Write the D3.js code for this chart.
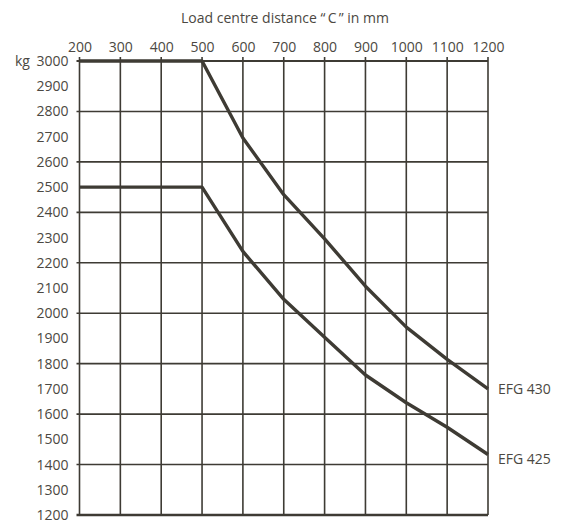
<!DOCTYPE html>
<html lang="en">
<head>
<meta charset="UTF-8">
<title>Load chart</title>
<script src="https://cdn.jsdelivr.net/npm/d3@7/dist/d3.min.js"></script>
<style>
  body { margin: 0; background: #fff; }
  text { font-family: "Open Sans", sans-serif; fill: #4b4842; }
</style>
</head>
<body>
<script>
// load centre distance in mm
var distances = [200, 300, 400, 500, 600, 700, 800, 900, 1000, 1100, 1200];
// capacity in kg
var efg430 = [3000, 3000, 3000, 3000, 2695, 2470, 2295, 2107, 1945, 1817, 1700];
var efg425 = [2500, 2500, 2500, 2500, 2245, 2055, 1905, 1755, 1645, 1548, 1440];
var seriesNames = ["EFG 430", "EFG 425"];
var labelLevels = [1700, 1420];
var yTicks = d3.range(1200, 3001, 100);
var yGrid = d3.range(1200, 3001, 200);

var width = 561, height = 525;
var ink = "#3e3b34";
var fs = "14px";

var svg = d3.select("body").append("svg")
    .attr("width", width)
    .attr("height", height);

var x = d3.scaleLinear().domain([200, 1200]).range([79.5, 488]);
var y = d3.scaleLinear().domain([1200, 3000]).range([515, 61]);

// title
svg.append("text")
    .attr("x", 285)
    .attr("y", 23)
    .attr("text-anchor", "middle")
    .style("font-size", fs)
    .text("Load centre distance \u201C\u2009C\u2009\u201D in mm");

// vertical grid lines (with small tick above the top line)
svg.append("g").selectAll("line")
    .data(distances)
    .enter().append("line")
    .attr("x1", function(d) { return x(d); })
    .attr("x2", function(d) { return x(d); })
    .attr("y1", y(3000) - 4)
    .attr("y2", y(1200))
    .attr("stroke", ink)
    .attr("stroke-width", 1.6);

// horizontal grid lines every 200 kg
svg.append("g").selectAll("line")
    .data(yGrid)
    .enter().append("line")
    .attr("x1", x(200) - 3)
    .attr("x2", x(1200))
    .attr("y1", function(d) { return y(d); })
    .attr("y2", function(d) { return y(d); })
    .attr("stroke", ink)
    .attr("stroke-width", function(d) { return d === 1200 ? 2.6 : (d === 3000 ? 2 : 1.6); });

// top axis labels
var xAxis = d3.axisTop(x).tickValues(distances).tickSize(0).tickPadding(9).tickFormat(d3.format("d"));
var gx = svg.append("g")
    .attr("transform", "translate(0," + y(3000) + ")")
    .call(xAxis);
gx.select(".domain").remove();
gx.selectAll("text").style("font-size", fs).attr("fill", null).style("font-family", null);

// left axis labels
var yAxis = d3.axisLeft(y).tickValues(yTicks).tickSize(0).tickPadding(11).tickFormat(d3.format("d"));
var gy = svg.append("g")
    .attr("transform", "translate(" + x(200) + ",0)")
    .call(yAxis);
gy.select(".domain").remove();
gy.selectAll("text").style("font-size", fs).attr("fill", null).style("font-family", null);

svg.append("text")
    .attr("x", 15)
    .attr("y", y(3000))
    .attr("dy", "0.35em")
    .style("font-size", fs)
    .text("kg");

// curves
var line = d3.line()
    .x(function(d, i) { return x(distances[i]); })
    .y(function(d) { return y(d); });

svg.append("g").selectAll("path")
    .data([efg430, efg425])
    .enter().append("path")
    .attr("d", line)
    .attr("fill", "none")
    .attr("stroke", ink)
    .attr("stroke-width", 3.4)
    .attr("stroke-linejoin", "round");

// series labels
svg.append("g").selectAll("text")
    .data(seriesNames)
    .enter().append("text")
    .attr("x", x(1200) + 10)
    .attr("y", function(d, i) { return y(labelLevels[i]); })
    .attr("dy", "0.35em")
    .style("font-size", fs)
    .text(function(d) { return d; });
</script>
</body>
</html>
